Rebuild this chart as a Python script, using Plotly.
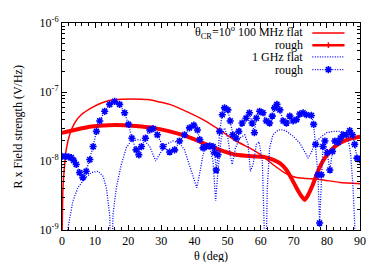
import plotly.graph_objects as go

# ---- data ----
theta_flat100 = [0, 0.3, 0.8, 1.3, 2.3, 3.8, 5.8, 8.9, 11.9, 15.9, 20.9, 26, 29, 32.5, 37.5,
                 42.6, 47.6, 52.6, 57.7, 60.7, 63.7, 67.8, 70.8, 77.8, 83.9, 90]
field_flat100 = [6e-10, 4.1e-9, 8.9e-9, 1.48e-8, 2.4e-8, 3.55e-8, 4.68e-8, 5.89e-8, 6.92e-8,
                 7.76e-8, 7.94e-8, 7.76e-8, 7.24e-8, 6.61e-8, 5.25e-8, 3.98e-8, 2.82e-8,
                 1.95e-8, 1.45e-8, 1.17e-8, 8.9e-9, 6.5e-9, 5.75e-9, 5.4e-9, 4.9e-9, 4.7e-9]

theta_rough100 = [0, 3.8, 8.9, 13.9, 18.9, 24, 27.5, 32.5, 37.5, 42.6, 47.6, 52.6, 57.7, 60.7,
                  63.7, 65.8, 67.8, 69.3, 70.8, 72.3, 73.3, 74.3, 75.8, 77.3, 78.8, 80.9,
                  83.9, 86.9, 90]
field_rough100 = [2.57e-8, 2.82e-8, 3.16e-8, 3.31e-8, 3.31e-8, 3.16e-8, 3.02e-8, 2.69e-8,
                  2.29e-8, 1.82e-8, 1.45e-8, 1.23e-8, 1.17e-8, 1.15e-8, 1.05e-8, 9.3e-9,
                  7.4e-9, 5.6e-9, 4.1e-9, 3.1e-9, 2.75e-9, 3.2e-9, 4.6e-9, 7.1e-9, 1.0e-8,
                  1.38e-8, 1.82e-8, 2.09e-8, 2.24e-8]

theta_flat1g = [1.5, 1.8, 3.3, 4.8, 6.9, 8.9, 10.9, 12.4, 13.4, 14.4, 14.9, 15.4, 16.4, 17.9,
                19.4, 20.9, 23, 25, 26.5, 27.5, 28.3, 30, 31.5, 33.5, 35.5, 37, 38.5, 40,
                40.7, 41.5, 42.6, 43.6, 44.6, 45.6, 46.4, 47.1, 48.1, 49.1, 50.1, 50.8,
                51.4, 52.4, 53.7, 55.2, 56.2, 56.9, 57.7, 58.7, 59.5, 60.5, 61.0, 61.5,
                62.0, 62.7, 63.7, 65.3, 66.8, 67.8, 69.8, 71.8, 73.8, 74.3, 75.3, 76.3,
                77.8, 79.9, 81.9, 83.9, 85.4, 86.4, 87.2, 87.9, 88.4, 88.9, 90]
field_flat1g = [6e-10, 1.07e-9, 2.63e-9, 4.1e-9, 5.6e-9, 6.8e-9, 7.1e-9, 6.0e-9, 4.1e-9,
                1.66e-9, 2e-10, 1.66e-9, 4.1e-9, 8.9e-9, 1.55e-8, 1.95e-8, 2.04e-8, 1.95e-8,
                1.62e-8, 1.23e-8, 1.0e-8, 1.38e-8, 1.74e-8, 1.95e-8, 1.82e-8, 1.45e-8,
                8.9e-9, 5.1e-9, 4.1e-9, 6.3e-9, 1.23e-8, 1.62e-8, 1.58e-8, 1.0e-8, 2.63e-9,
                7.1e-9, 2.14e-8, 3.02e-8, 2.14e-8, 1.23e-8, 8.9e-9, 1.55e-8, 2.14e-8,
                2.4e-8, 1.74e-8, 7.1e-9, 8.9e-9, 1.74e-8, 1.9e-8, 1.0e-8, 3.2e-9, 2e-10,
                4e-9, 1.55e-8, 2.4e-8, 2.82e-8, 2.82e-8, 2.69e-8, 2.29e-8, 1.82e-8,
                1.23e-8, 1.1e-8, 1.32e-8, 1.82e-8, 2.14e-8, 2.57e-8, 2.69e-8, 2.69e-8,
                2.57e-8, 2.14e-8, 1.23e-8, 4.1e-9, 1.2e-9, 2e-10, 8e-10]

theta_rough1g = [0, 1, 2, 2.8, 3.5, 4.3, 5.3, 6.3, 7.3, 8.4, 9.4, 10.4, 11.4, 12.9, 14.4,
                 15.9, 17.4, 18.9, 20.1, 21.1, 22.4, 23.2, 24, 25.2, 26.5, 27.5, 28.8,
                 30.5, 32.5, 34, 35.5, 37, 38.5, 39.8, 40.9, 41.6, 42.6, 43.6, 44.6, 45.6,
                 46.1, 46.6, 47.1, 47.6, 48.4, 49.1, 50.1, 50.8, 51.6, 52.6, 53.4, 54.4,
                 55.6, 56.6, 57.4, 58.1, 58.7, 59.7, 60.7, 61.7, 62.7, 63.5, 64.2, 64.9,
                 65.8, 66.8, 67.8, 68.8, 69.8, 70.8, 71.8, 72.8, 73.8, 75.3, 76.0, 76.6,
                 77.3, 77.8, 78.3, 78.8, 79.4, 80.1, 80.9, 81.7, 82.4, 83.4, 84.1, 84.9,
                 85.9, 86.9, 87.7, 88.4, 89.1, 89.9]
field_rough1g = [1.17e-8, 1.17e-8, 1.15e-8, 1.12e-8, 1.02e-8, 8.9e-9, 6.8e-9, 5.75e-9,
                 7.1e-9, 1.05e-8, 1.62e-8, 2.69e-8, 3.8e-8, 5.25e-8, 6.61e-8, 7.33e-8,
                 6.61e-8, 5.0e-8, 3.39e-8, 2.14e-8, 1.45e-8, 1.23e-8, 1.62e-8, 2.14e-8,
                 2.82e-8, 2.95e-8, 2.4e-8, 1.62e-8, 1.35e-8, 1.45e-8, 1.95e-8, 2.4e-8,
                 3.02e-8, 3.31e-8, 2.82e-8, 2.04e-8, 1.55e-8, 1.62e-8, 1.66e-8, 1.62e-8,
                 1.32e-8, 7.4e-9, 1.23e-8, 2.69e-8, 4.68e-8, 5.89e-8, 5.5e-8, 3.8e-8,
                 2.4e-8, 2.14e-8, 2.69e-8, 3.55e-8, 4.17e-8, 5.0e-8, 3.55e-8, 2.57e-8,
                 4.17e-8, 5.25e-8, 5.0e-8, 3.8e-8, 3.55e-8, 4.47e-8, 5.89e-8, 6.61e-8,
                 5.5e-8, 3.8e-8, 3.55e-8, 4.47e-8, 3.8e-8, 3.98e-8, 4.79e-8, 5.0e-8,
                 4.68e-8, 4.57e-8, 3.39e-8, 1.74e-8, 6.3e-9, 1.26e-9, 6.3e-9, 1.62e-8,
                 1.95e-8, 1.32e-8, 7.4e-9, 1.38e-8, 1.95e-8, 1.86e-8, 2.14e-8, 2.4e-8,
                 2.4e-8, 2.75e-8, 2.4e-8, 1.74e-8, 1.1e-8, 1.05e-8]

legend_labels = ["θ<sub>CR</sub>=10<sup>o</sup> 100 MHz flat", "rough", "1 GHz flat", "rough"]
x_title = "θ (deg)"
y_title = "R x Field strength (V/Hz)"
y_tickvals = [1e-9, 1e-8, 1e-7, 1e-6]
y_ticktext = ["10<sup>-9</sup>", "10<sup>-8</sup>", "10<sup>-7</sup>", "10<sup>-6</sup>"]
y_minor = [m * 10.0 ** e for e in (-9, -8, -7) for m in range(2, 10)]

RED = "#ff0000"
BLUE = "#0000ff"
FONT = "Liberation Serif, DejaVu Serif, Times New Roman, serif"
DOT = "1px,1.5px"

fig = go.Figure()
fig.add_trace(go.Scatter(x=theta_flat100, y=field_flat100, mode="lines",
                         line=dict(color=RED, width=1.5, shape="spline", smoothing=0.6)))
fig.add_trace(go.Scatter(x=theta_rough100, y=field_rough100, mode="lines+markers",
                         line=dict(color=RED, width=4, shape="spline", smoothing=0.6),
                         marker=dict(color=RED, size=3)))
fig.add_trace(go.Scatter(x=theta_flat1g, y=field_flat1g, mode="lines",
                         line=dict(color=BLUE, width=1.3, dash=DOT)))
fig.add_trace(go.Scatter(x=theta_rough1g, y=field_rough1g, mode="lines+markers",
                         line=dict(color=BLUE, width=1.3, dash=DOT),
                         marker=dict(color=BLUE, symbol="asterisk-open", size=6,
                                     line=dict(color=BLUE, width=1.6))))

# legend keys on an overlay axis (0..1 in the plot area)
rows = [0.952, 0.893, 0.836, 0.775]
kx0, kx1, kxm = 0.84, 0.948, 0.894
key_styles = [
    dict(line=dict(color=RED, width=1.5)),
    dict(line=dict(color=RED, width=2.5)),
    dict(line=dict(color=BLUE, width=1.3, dash=DOT)),
    dict(line=dict(color=BLUE, width=1.3, dash=DOT)),
]
for r, st in zip(rows, key_styles):
    fig.add_trace(go.Scatter(x=[kx0, kx1], y=[r, r], mode="lines", xaxis="x2", yaxis="y2",
                             hoverinfo="skip", **st))
fig.add_trace(go.Scatter(x=[kxm], y=[rows[1]], mode="markers", xaxis="x2", yaxis="y2",
                         marker=dict(color=RED, size=4, symbol="line-ns-open",
                                     line=dict(color=RED, width=1.5)), hoverinfo="skip"))
fig.add_trace(go.Scatter(x=[kxm], y=[rows[3]], mode="markers", xaxis="x2", yaxis="y2",
                         marker=dict(color=BLUE, symbol="asterisk-open", size=6,
                                     line=dict(color=BLUE, width=1.6)), hoverinfo="skip"))

for r, t in zip(rows, legend_labels):
    fig.add_annotation(x=0.815, y=r, xref="paper", yref="paper", text=t, showarrow=False,
                       xanchor="right", yanchor="middle",
                       font=dict(family=FONT, size=12, color="black"))

# axis titles
fig.add_annotation(x=0.5, y=-0.126, xref="paper", yref="paper", text=x_title,
                   showarrow=False, xanchor="center", yanchor="middle",
                   font=dict(family=FONT, size=12, color="black"))
fig.add_annotation(x=-0.148, y=0.5, xref="paper", yref="paper", text=y_title,
                   showarrow=False, xanchor="center", yanchor="middle", textangle=-90,
                   font=dict(family=FONT, size=12, color="black"))

axis_common = dict(showline=True, linecolor="black", linewidth=1, mirror="ticks",
                   ticks="inside", ticklen=5, tickcolor="black", showgrid=False, zeroline=False,
                   automargin=False,
                   tickfont=dict(family=FONT, size=12, color="black"))

fig.update_layout(
    width=374, height=262,
    margin=dict(l=54, r=22, t=15, b=40),
    paper_bgcolor="white", plot_bgcolor="white",
    showlegend=False,
    font=dict(family=FONT, size=12, color="black"),
    xaxis=dict(range=[0, 90], tickmode="array", tickvals=list(range(0, 91, 10)),
               minor=dict(ticks="inside", ticklen=3, tickcolor="black",
                          tickvals=list(range(0, 91, 2))),
               **axis_common),
    yaxis=dict(type="log", range=[-9, -6], tickmode="array", tickvals=y_tickvals,
               ticktext=y_ticktext,
               minor=dict(ticks="inside", ticklen=3, tickcolor="black", tickvals=y_minor),
               **axis_common),
    xaxis2=dict(overlaying="x", range=[0, 1], visible=False),
    yaxis2=dict(overlaying="y", range=[0, 1], visible=False),
)

fig.write_html("out.html")
